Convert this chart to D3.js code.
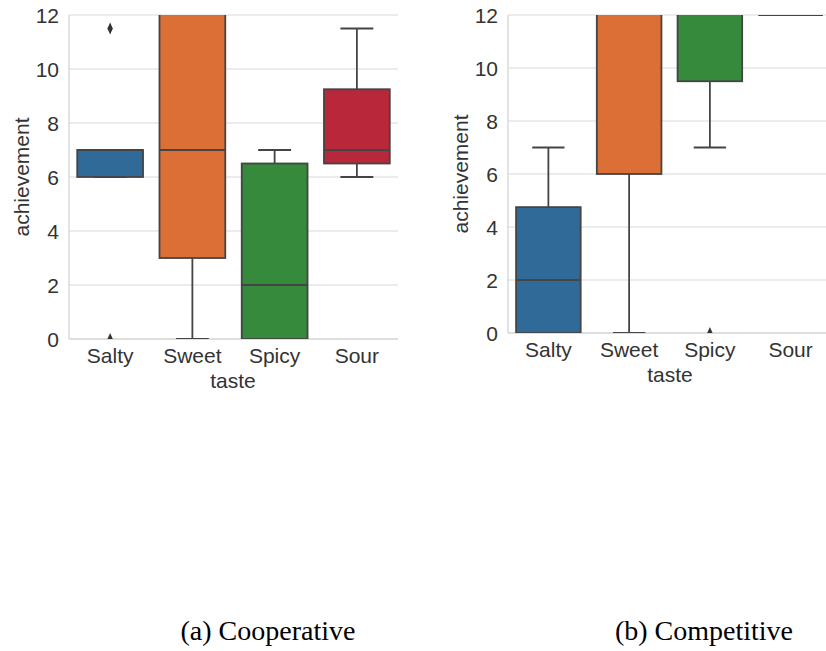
<!DOCTYPE html>
<html>
<head>
<meta charset="utf-8">
<script src="https://cdn.jsdelivr.net/npm/d3@7"></script>
<style>
  body { margin: 0; background: #fff; }
  svg { display: block; }
</style>
</head>
<body>
<div id="chart"></div>
<script>
var categories = ["Salty", "Sweet", "Spicy", "Sour"];
var yTicks = [0, 2, 4, 6, 8, 10, 12];
var colors = ["#2f6a99", "#dc6f36", "#358a3b", "#b8283a"];

// (a) Cooperative
var coopQ1 = [6, 3, 0, 6.5];
var coopMedian = [7, 7, 2, 7];
var coopQ3 = [7, 14, 6.5, 9.25];
var coopLow = [6, 0, 0, 6];
var coopHigh = [7, 16, 7, 11.5];
var coopOutliers = [[0, 11.5], [], [], []];

// (b) Competitive
var compQ1 = [0, 6, 9.5, 12];
var compMedian = [2, 13, 13, 12];
var compQ3 = [4.75, 15, 14, 12];
var compLow = [0, 0, 7, 12];
var compHigh = [7, 18, 16, 12];
var compOutliers = [[], [], [0], []];

var w = 826;
var h = 651;

var svg = d3.select("#chart")
  .append("svg")
  .attr("width", w)
  .attr("height", h);

var drawPanel = function (id, box, q1, med, q3, lo, hi, outliers) {
  var x = d3.scaleBand()
    .domain(categories)
    .range([box.left, box.right]);

  var y = d3.scaleLinear()
    .domain([0, 12])
    .range([box.bottom, box.top]);

  var g = svg.append("g");

  //grid
  g.append("g")
    .selectAll("line")
    .data(yTicks)
    .enter()
    .append("line")
    .attr("x1", box.left)
    .attr("x2", box.right)
    .attr("y1", function(d) { return y(d); })
    .attr("y2", function(d) { return y(d); })
    .attr("stroke", "#e6e6e6")
    .attr("stroke-width", 1.5);

  //spines
  g.append("line")
    .attr("x1", box.left).attr("x2", box.left)
    .attr("y1", box.top).attr("y2", box.bottom)
    .attr("stroke", "#d0d0d0").attr("stroke-width", 1.2);
  g.append("line")
    .attr("x1", box.left).attr("x2", box.right)
    .attr("y1", box.bottom).attr("y2", box.bottom)
    .attr("stroke", "#d0d0d0").attr("stroke-width", 1.2);

  svg.append("clipPath")
    .attr("id", id)
    .append("rect")
    .attr("x", box.left)
    .attr("y", box.top)
    .attr("width", box.right - box.left)
    .attr("height", box.bottom - box.top);

  var plot = g.append("g").attr("clip-path", "url(#" + id + ")");

  var bw = x.bandwidth() * 0.8;
  var stroke = "#444";
  var sw = 1.8;

  categories.forEach(function(c, i) {
    var cx = x(c) + x.bandwidth() / 2;

    // whiskers
    plot.append("line")
      .attr("x1", cx).attr("x2", cx)
      .attr("y1", y(q3[i])).attr("y2", y(hi[i]))
      .attr("stroke", stroke).attr("stroke-width", sw);
    plot.append("line")
      .attr("x1", cx).attr("x2", cx)
      .attr("y1", y(q1[i])).attr("y2", y(lo[i]))
      .attr("stroke", stroke).attr("stroke-width", sw);
    [lo[i], hi[i]].forEach(function(v) {
      plot.append("line")
        .attr("x1", cx - bw / 4).attr("x2", cx + bw / 4)
        .attr("y1", y(v)).attr("y2", y(v))
        .attr("stroke", stroke).attr("stroke-width", sw);
    });

    plot.append("rect")
      .attr("x", cx - bw / 2)
      .attr("width", bw)
      .attr("y", y(q3[i]))
      .attr("height", y(q1[i]) - y(q3[i]))
      .attr("fill", colors[i])
      .attr("stroke", stroke)
      .attr("stroke-width", sw);

    plot.append("line")
      .attr("x1", cx - bw / 2).attr("x2", cx + bw / 2)
      .attr("y1", y(med[i])).attr("y2", y(med[i]))
      .attr("stroke", stroke).attr("stroke-width", sw);

    outliers[i].forEach(function(v) {
      plot.append("path")
        .attr("d", d3.symbol().type(d3.symbolDiamond).size(40)())
        .attr("transform", "translate(" + cx + "," + y(v) + ") scale(0.8,1)")
        .attr("fill", "#333");
    });
  });

  //tick labels
  g.append("g")
    .selectAll("text")
    .data(yTicks)
    .enter()
    .append("text")
    .attr("x", box.left - 10)
    .attr("y", function(d) { return y(d); })
    .attr("dy", "0.36em")
    .attr("text-anchor", "end")
    .text(function(d) { return d; });

  g.append("g")
    .selectAll("text")
    .data(categories)
    .enter()
    .append("text")
    .attr("x", function(d) { return x(d) + x.bandwidth() / 2; })
    .attr("y", box.bottom + 24)
    .attr("text-anchor", "middle")
    .text(function(d) { return d; });

  g.append("text")
    .attr("transform", "translate(" + box.yLabelX + "," + ((box.top + box.bottom) / 2) + ") rotate(-90)")
    .attr("text-anchor", "middle")
    .text("achievement");

  g.append("text")
    .attr("x", box.xLabelX)
    .attr("y", box.bottom + 49)
    .attr("text-anchor", "middle")
    .text("taste");

  g.selectAll("text")
    .attr("font-family", "'Liberation Sans', Arial, sans-serif")
    .attr("font-size", 21)
    .attr("fill", "#333");

  svg.append("text")
    .attr("x", box.captionX)
    .attr("y", 640)
    .attr("text-anchor", "middle")
    .attr("font-family", "'Liberation Serif', 'Times New Roman', serif")
    .attr("font-size", 28)
    .attr("fill", "#000")
    .text(box.caption);
}

drawPanel("clipA", {left: 69, right: 398, top: 15, bottom: 339, yLabelX: 29, xLabelX: 233, captionX: 268, caption: "(a) Cooperative"},
  coopQ1, coopMedian, coopQ3, coopLow, coopHigh, coopOutliers);

drawPanel("clipB", {left: 508, right: 831, top: 15, bottom: 333, yLabelX: 468, xLabelX: 670, captionX: 704, caption: "(b) Competitive"},
  compQ1, compMedian, compQ3, compLow, compHigh, compOutliers);
</script>
</body>
</html>
